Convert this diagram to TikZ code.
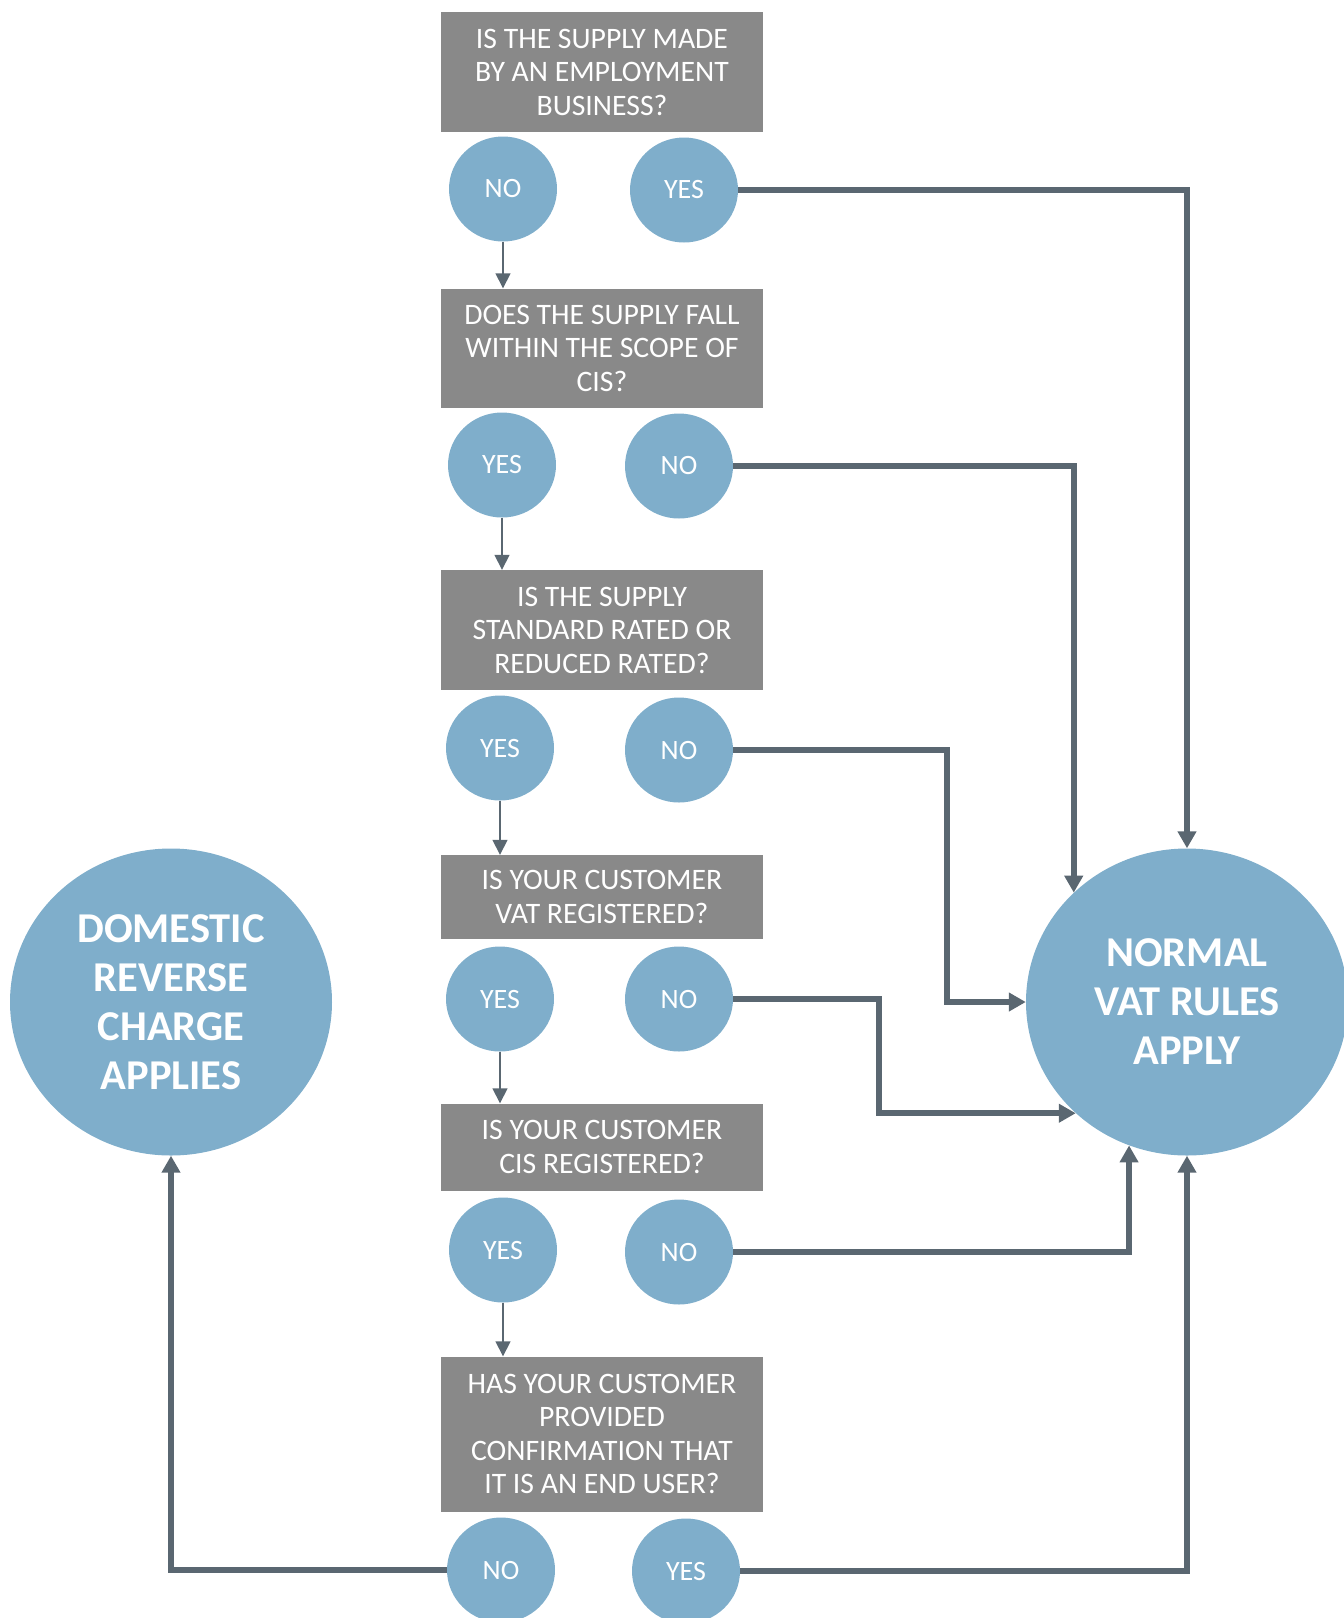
\documentclass[tikz,border=0pt]{standalone}
\usepackage{fontspec}
\setmainfont{Carlito}
\usetikzlibrary{arrows.meta,shapes.geometric}
\definecolor{boxgray}{RGB}{137,137,137}
\definecolor{bubble}{RGB}{127,174,203}
\definecolor{slate}{RGB}{90,103,113}
\tikzset{
	question/.style={rectangle, fill=boxgray, text=white, minimum width=322pt, align=center, inner sep=0pt, font=\fontsize{29.7}{33.5}\selectfont},
	answer/.style={ellipse, fill=bubble, text=white, minimum width=108pt, minimum height=105pt, inner sep=0pt, font=\fontsize{28}{33}\selectfont},
	outcome/.style={ellipse, fill=bubble, text=white, minimum width=322pt, minimum height=307pt, align=center, inner sep=0pt, font=\fontsize{42.5}{49}\selectfont\bfseries},
	thinlink/.style={draw=slate, line width=1.5pt, -{Triangle[length=15pt,width=15pt]}},
	thicklink/.style={draw=slate, line width=5.5pt, -{Triangle[length=17pt,width=18pt]}}
}

\begin{document}
\begin{tikzpicture}[x=1pt, y=-1pt]
			%%%%% START %%%%%
			\useasboundingbox (0, 0) rectangle (1344, 1618);
			
			% questions
			\node[question, minimum height=120pt] (q1) at (602, 72) {IS THE SUPPLY MADE\\BY AN EMPLOYMENT\\BUSINESS?};
			\node[question, minimum height=119pt] (q2) at (602, 348) {DOES THE SUPPLY FALL\\WITHIN THE SCOPE OF\\CIS?};
			\node[question, minimum height=120pt] (q3) at (602, 630) {IS THE SUPPLY\\STANDARD RATED OR\\REDUCED RATED?};
			\node[question, minimum height=84pt] (q4) at (602, 897) {IS YOUR CUSTOMER\\VAT REGISTERED?};
			\node[question, minimum height=87pt] (q5) at (602, 1147) {IS YOUR CUSTOMER\\CIS REGISTERED?};
			\node[question, minimum height=155pt] (q6) at (602, 1434) {HAS YOUR CUSTOMER\\PROVIDED\\CONFIRMATION THAT\\IT IS AN END USER?};
			
			% answers
			\node[answer] (q1no) at (503, 189) {NO};
			\node[answer] (q1yes) at (684, 190) {YES};
			\node[answer] (q2yes) at (502, 465) {YES};
			\node[answer] (q2no) at (679, 466) {NO};
			\node[answer] (q3yes) at (500, 748) {YES};
			\node[answer] (q3no) at (679, 750) {NO};
			\node[answer] (q4yes) at (500, 999) {YES};
			\node[answer] (q4no) at (679, 999) {NO};
			\node[answer] (q5yes) at (503, 1250) {YES};
			\node[answer] (q5no) at (679, 1252) {NO};
			\node[answer] (q6no) at (501, 1570) {NO};
			\node[answer] (q6yes) at (686, 1571) {YES};
			
			% outcomes
			\node[outcome] (drc) at (171, 1002) {DOMESTIC\\REVERSE\\CHARGE\\APPLIES};
			\node[outcome] (nvr) at (1187, 1002) {NORMAL\\VAT RULES\\APPLY};
			
			\coordinate (jog3) at (947, 0);
			\coordinate (jog4) at (879, 0);
			
			% down the middle
			\draw[thinlink] (q1no.south) -- (q1no.south |- q2.north);
			\draw[thinlink] (q2yes.south) -- (q2yes.south |- q3.north);
			\draw[thinlink] (q3yes.south) -- (q3yes.south |- q4.north);
			\draw[thinlink] (q4yes.south) -- (q4yes.south |- q5.north);
			\draw[thinlink] (q5yes.south) -- (q5yes.south |- q6.north);
			
			% out to the results
			\draw[thicklink] (q1yes.east) -| (nvr.north);
			\draw[thicklink] (q2no.east) -| (nvr.136);
			\draw[thicklink] (q3no.east) -| (jog3 |- nvr.west) -- (nvr.west);
			\draw[thicklink] (q4no.east) -| (jog4 |- nvr.225) -- (nvr.225);
			\draw[thicklink] (q5no.east) -| (nvr.248);
			\draw[thicklink] (q6yes.east) -| (nvr.south);
			\draw[thicklink] (q6no.west) -| (drc.south);
			
			%%%%% END %%%%%
\end{tikzpicture}
\end{document}
